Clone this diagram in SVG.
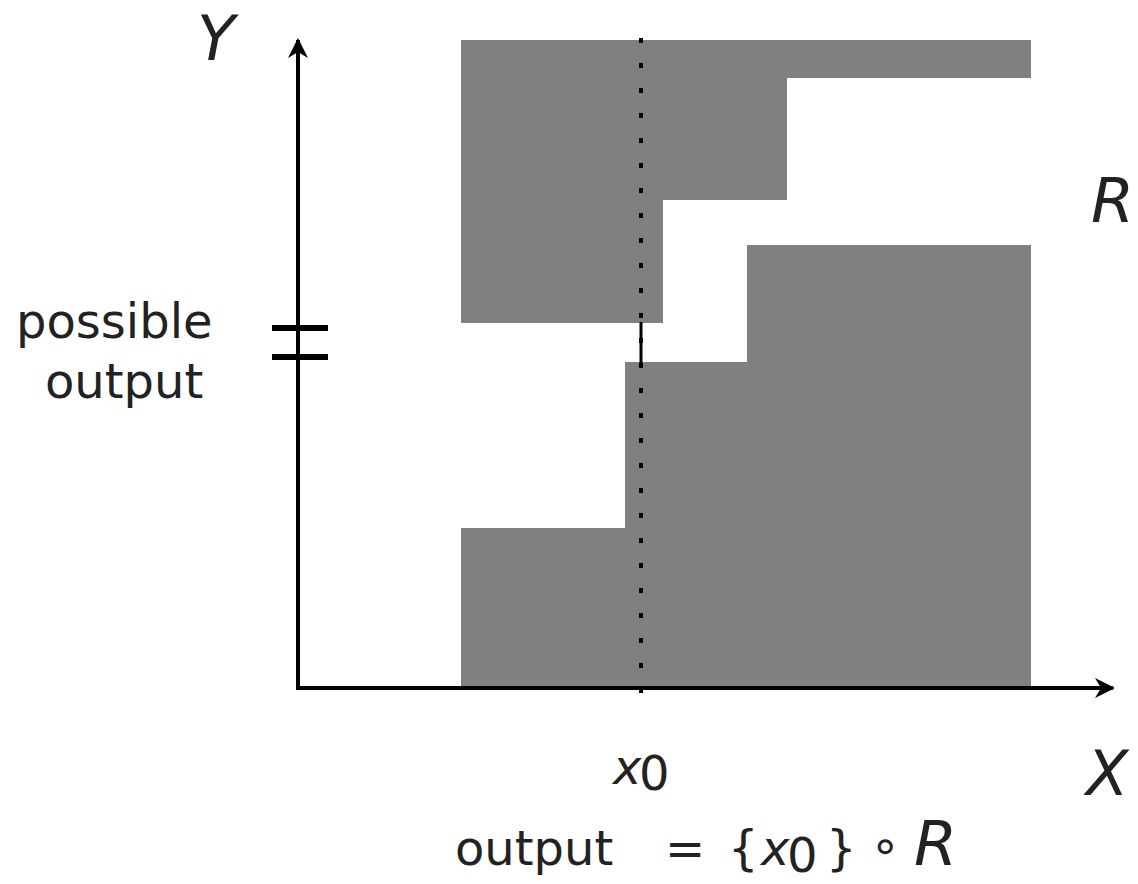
<svg xmlns="http://www.w3.org/2000/svg" width="1138" height="884" viewBox="0 0 1138 884">
<style>
.txt{font-family:"DejaVu Sans",sans-serif;font-size:48px;fill:#222}
.math{font-family:"DejaVu Sans",sans-serif;font-style:oblique;fill:#222}
.region{fill:#808080}
.axis{stroke:#000;stroke-width:4;fill:none}
</style>
<defs>
<marker id="arr" viewBox="0 0 10 10" refX="9" refY="5" markerWidth="5" markerHeight="5" markerUnits="strokeWidth" orient="auto">
<path d="M0,0 L10,5 L0,10 L3,5 Z" fill="#000"/>
</marker>
</defs>
<rect width="1138" height="884" fill="#fff"/>
<g id="relation-R">
<path class="region" d="M461,40 H1031 V78 H787 V200 H663 V323 H461 Z"/>
<path class="region" d="M747,245 H1031 V688 H461 V528 H625 V362 H747 Z"/>
</g>
<g id="connectors">
<line id="y-axis" class="axis" x1="298" y1="690" x2="298" y2="40" marker-end="url(#arr)"/>
<line id="x-axis" class="axis" x1="296" y1="688" x2="1113" y2="688" marker-end="url(#arr)"/>
<line id="x0-line" x1="641" y1="38" x2="641" y2="712" stroke="#000" stroke-width="4" stroke-dasharray="5 20"/>
<line id="output-seg" x1="641" y1="322" x2="641" y2="364" stroke="#000" stroke-width="3"/>
<line id="tick1" x1="272" y1="328" x2="328" y2="328" stroke="#000" stroke-width="6"/>
<line id="tick2" x1="272" y1="357" x2="328" y2="357" stroke="#000" stroke-width="6"/>
</g>
<g id="labels">
<text class="math" x="197" y="60" font-size="62">Y</text>
<text class="math" x="1086" y="795" font-size="62">X</text>
<text class="math" x="1091" y="222" font-size="62">R</text>
<text class="txt" x="16" y="338" font-size="50">possible</text>
<text class="txt" x="45" y="398" font-size="50">output</text>
<text class="math" x="613" y="784" font-size="48">x</text>
<text class="txt" x="639" y="790" font-size="32">0</text>
<text class="txt" x="455" y="865" font-size="50">output</text>
<text class="txt" x="665" y="865" font-size="50">=</text>
<text class="txt" x="728" y="865" font-size="56">{</text>
<text class="math" x="761" y="865" font-size="48">x</text>
<text class="txt" x="787" y="872" font-size="32">0</text>
<text class="txt" x="826" y="865" font-size="56">}</text>
<text class="txt" x="870" y="862" font-size="40">∘</text>
<text class="math" x="914" y="865" font-size="62">R</text>
</g>
</svg>
